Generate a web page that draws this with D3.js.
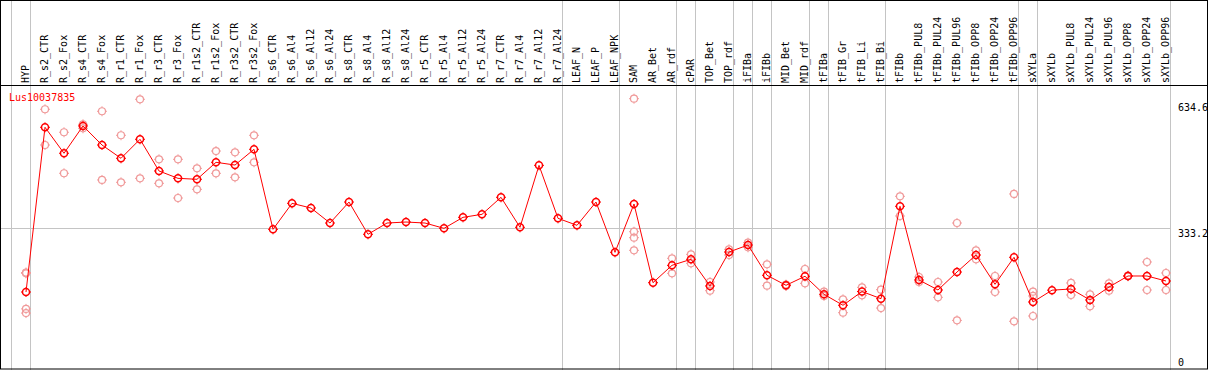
<!DOCTYPE html>
<html>
<head>
<meta charset="utf-8">
<script src="https://cdn.jsdelivr.net/npm/d3@7"></script>
<style>
  html, body { margin: 0; padding: 0; background: #fff; }
  svg { display: block; }
  text { font-family: "DejaVu Sans Mono", "Liberation Mono", monospace; }
</style>
</head>
<body>
<div id="chart"></div>
<script>
const title = "Lus10037835";

const categories = [
  "HYP","R_s2_CTR","R_s2_Fox","R_s4_CTR","R_s4_Fox","R_r1_CTR","R_r1_Fox","R_r3_CTR","R_r3_Fox",
  "R_r1s2_CTR","R_r1s2_Fox","R_r3s2_CTR","R_r3s2_Fox","R_s6_CTR","R_s6_Al4","R_s6_Al12","R_s6_Al24",
  "R_s8_CTR","R_s8_Al4","R_s8_Al12","R_s8_Al24","R_r5_CTR","R_r5_Al4","R_r5_Al12","R_r5_Al24",
  "R_r7_CTR","R_r7_Al4","R_r7_Al12","R_r7_Al24","LEAF_N","LEAF_P","LEAF_NPK","SAM","AR_Bet","AR_rdf",
  "cPAR","TOP_Bet","TOP_rdf","iFIBa","iFIBb","MID_Bet","MID_rdf","tFIBa","tFIB_Gr","tFIB_Li","tFIB_Bi",
  "tFIBb","tFIBb_PUL8","tFIBb_PUL24","tFIBb_PUL96","tFIBb_OPP8","tFIBb_OPP24","tFIBb_OPP96",
  "sXYLa","sXYLb","sXYLb_PUL8","sXYLb_PUL24","sXYLb_PUL96","sXYLb_OPP8","sXYLb_OPP24","sXYLb_OPP96"
];

const means = [
  179.4, 573.4, 511.2, 576.6, 531.0, 499.2, 544.7, 468.9, 451.3,
  449.0, 489.6, 483.1, 520.7, 329.3, 391.5, 380.3, 344.4,
  394.6, 317.4, 344.4, 346.8, 344.4, 331.7, 358.0, 365.2,
  405.9, 334.1, 482.4, 355.6, 338.9, 394.6, 274.3, 389.9, 201.7, 243.2,
  257.6, 193.8, 275.0, 291.8, 219.3, 195.4, 217.0, 173.9, 147.6, 180.5, 163.4,
  384.4, 208.1, 184.2, 227.2, 267.9, 197.8, 262.4,
  155.5, 183.8, 186.6, 160.3, 191.3, 217.7, 217.7, 205.7
];

const replicates = [
  [226, 224, 139, 129], [616.5, 531], [561.5, 463.4], [580.6, 571], [611.7, 447.4],
  [554.3, 441.8], [640.4, 451.3], [496.8, 439.4], [496.8, 404.2],
  [475.2, 425], [516.6, 463.3], [513.5, 453.7], [554.2, 489.6], [], [], [], [],
  [], [], [], [], [], [], [], [],
  [], [], [], [], [], [], [], [641.8, 323.6, 309.3, 279.1], [], [260, 224.1],
  [269.5, 248], [203.3, 182.5], [281.5, 267.9], [297.3, 286.3], [245.6, 194.5], [197, 194], [234.4, 200.2],
  [180.1, 169.9], [161.9, 129.9], [190.6, 171.5], [185, 141],
  [408.3, 361.2], [215.3, 203.3], [203.3, 166.7], [344.4, 111.6], [279.1, 257.6], [217.7, 179.4], [413.9, 109.3],
  [180.1, 169.9, 122], [], [201, 172.2], [173.9, 145.2], [200.2, 182.5], [218.5, 217], [251.2, 184.2], [224.9, 184.2]
];

// categories after which a group divider is drawn
const groupEnds = ["HYP","R_r7_Al24","LEAF_NPK","AR_rdf","cPAR","TOP_rdf","iFIBa","iFIBb",
                   "MID_rdf","tFIBa","tFIB_Bi","tFIBb_OPP96","sXYLa","sXYLb_OPP96"];

const tickValues = [634.6, 333.2, 0];
const tickLabels = ["634.6", "333.2", "0"];
const gridValues = [333.2];

const W = 1209, H = 370;
const svg = d3.select("#chart").append("svg").attr("width", W).attr("height", H);

const x = d3.scalePoint().domain(categories).range([26, 1166]);
const step = x.step();
const y = d3.scaleLinear().domain([0, 634.6]).range([367, 101.7]);

const GRAY = "#c4c4c4";
const RED = "#ff0000";
const PINK = "#f09a9a";

// group dividers (full height)
const dividers = [x(categories[0]) - step].concat(groupEnds.map(c => x(c)));
svg.selectAll("line.div").data(dividers).enter().append("line")
  .attr("x1", d => Math.floor(d + 4.5) + 0.5).attr("x2", d => Math.floor(d + 4.5) + 0.5)
  .attr("y1", 0).attr("y2", H)
  .attr("stroke", GRAY).attr("stroke-width", 1);

// horizontal grid
svg.selectAll("line.grid").data(gridValues).enter().append("line")
  .attr("x1", 1).attr("x2", x(categories[categories.length - 1]) + 4.5)
  .attr("y1", d => Math.round(y(d)) + 0.5).attr("y2", d => Math.round(y(d)) + 0.5)
  .attr("stroke", GRAY).attr("stroke-width", 1);

// frame
svg.append("rect").attr("x", 0.5).attr("y", 0.5).attr("width", 1207).attr("height", 368.5)
  .attr("fill", "none").attr("stroke", "#000").attr("stroke-width", 1);
svg.append("line").attr("x1", 0).attr("x2", 1208).attr("y1", 85.5).attr("y2", 85.5)
  .attr("stroke", "#000").attr("stroke-width", 1);

// category labels
svg.selectAll("text.cat").data(categories).enter().append("text")
  .attr("transform", d => `translate(${x(d) + 3},83) rotate(-90)`)
  .attr("font-size", "10px").attr("fill", "#000")
  .text(d => d);

// y tick labels
svg.selectAll("text.tick").data(tickValues).enter().append("text")
  .attr("x", 1178)
  .attr("y", d => Math.min(y(d) + 9, 366))
  .attr("font-size", "10px").attr("fill", "#000")
  .text((d, i) => tickLabels[i]);

// title
svg.append("text").attr("x", 9).attr("y", 100.5)
  .attr("font-size", "10px").attr("fill", RED).text(title);

function marker(g, color, sw) {
  g.append("circle").attr("r", 3.5).attr("fill", "none").attr("stroke", color).attr("stroke-width", sw);
  [[0,-3.5,0,-5],[0,3.5,0,5],[-3.5,0,-5,0],[3.5,0,5,0]].forEach(p => {
    g.append("line").attr("x1", p[0]).attr("y1", p[1]).attr("x2", p[2]).attr("y2", p[3])
      .attr("stroke", color).attr("stroke-width", 1);
  });
}

// replicates
const repPts = [];
replicates.forEach((arr, i) => arr.forEach(v => repPts.push({c: categories[i], v})));
svg.selectAll("g.rep").data(repPts).enter().append("g")
  .attr("transform", d => `translate(${x(d.c)},${y(d.v)})`)
  .each(function() { marker(d3.select(this), PINK, 1.2); });

// mean line
const meanPts = categories.map((c, i) => ({c, v: means[i]}));
svg.append("path").datum(meanPts)
  .attr("d", d3.line().x(d => x(d.c)).y(d => y(d.v)))
  .attr("fill", "none").attr("stroke", RED).attr("stroke-width", 1);

svg.selectAll("g.mean").data(meanPts).enter().append("g")
  .attr("transform", d => `translate(${x(d.c)},${y(d.v)})`)
  .each(function() { marker(d3.select(this), RED, 1.5); });
</script>
</body>
</html>
